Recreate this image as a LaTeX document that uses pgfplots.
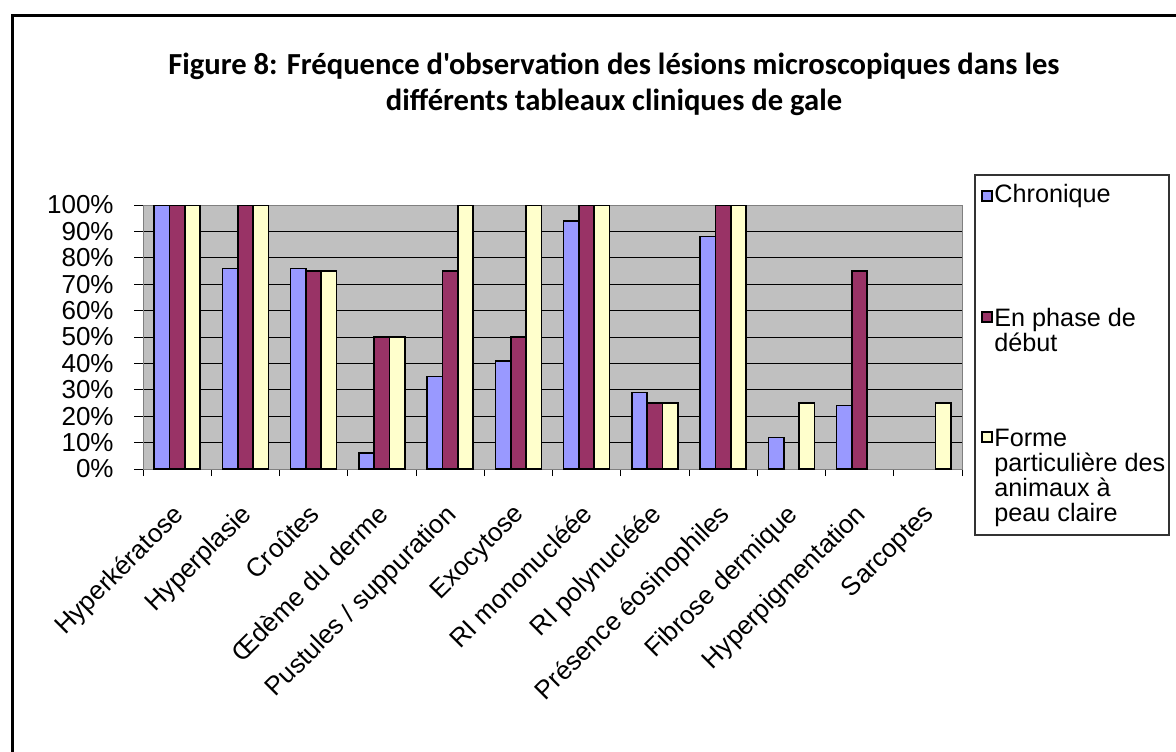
\documentclass[border=0pt]{standalone}
\usepackage{fontspec}
\setmainfont{Liberation Sans}
\newfontfamily\carlito{Carlito}
\usepackage{pgfplots}
\pgfplotsset{compat=1.18}
\definecolor{chron}{HTML}{9999FF}
\definecolor{phase}{HTML}{993366}
\definecolor{forme}{HTML}{FFFFCC}
\definecolor{plotbg}{HTML}{C0C0C0}
\begin{document}
\begin{tikzpicture}[x=0.5pt,y=0.5pt]
\useasboundingbox (0,0) rectangle (1176,751);
\fill[white] (0,0) rectangle (1176,751);
\draw[line width=1.5pt] (12,-20) -- (12,735) -- (1200,735);
\tikzset{ttl/.style={anchor=base, inner sep=0pt, font=\carlito\bfseries\fontsize{15.3}{18}\selectfont}}
\node[ttl] at (614,676) {Figure 8: Fréquence d'observation des lésions microscopiques dans les};
\node[ttl] at (614,640) {différents tableaux cliniques de gale};
\begin{axis}[
  at={(71.5pt,141pt)}, anchor=south west,
  width=409.5pt, height=132pt, scale only axis,
  ybar=0pt, bar width=7.65pt,
  xmin=-0.5, xmax=11.5, ymin=0, ymax=100,
  enlarge x limits=false, enlarge y limits=false,
  xtick={0,...,11},
  xticklabels={Hyperkératose,Hyperplasie,Croûtes,Œdème du derme,Pustules / suppuration,Exocytose,RI mononucléée,RI polynucléée,Présence éosinophiles,Fibrose dermique,Hyperpigmentation,Sarcoptes},
  minor xtick={-0.5,0.5,...,11.5},
  major x tick style={draw=none},
  minor x tick style={black, line width=0.5pt},
  tick align=outside, minor tick length=3.5pt, major tick length=4.5pt,
  tick pos=left,
  ytick={0,10,...,100},
  yticklabels={0\%,10\%,20\%,30\%,40\%,50\%,60\%,70\%,80\%,90\%,100\%},
  y tick style={black, line width=0.5pt},
  ymajorgrids, major grid style={black, line width=0.5pt},
  axis background/.style={fill=plotbg},
  axis line style={draw=gray, line width=0.5pt},
  tick label style={font=\fontsize{13}{13}\selectfont},
  yticklabel style={anchor=east, inner sep=0pt},
  yticklabel shift=10pt,
  xticklabel style={xshift=-3pt, rotate=45, anchor=north east, inner sep=0pt},
  xticklabel shift=12pt,
  every axis plot/.append style={draw=black, line width=0.8pt},
]
\addplot[fill=chron] coordinates {(0,100) (1,76) (2,76) (3,6) (4,35) (5,41) (6,94) (7,29) (8,88) (9,12) (10,24)};
\addplot[fill=phase] coordinates {(0,100) (1,100) (2,75) (3,50) (4,75) (5,50) (6,100) (7,25) (8,100) (10,75)};
\addplot[fill=forme] coordinates {(0,100) (1,100) (2,75) (3,50) (4,100) (5,100) (6,100) (7,25) (8,100) (9,25) (11,25)};
\end{axis}
% legend
\draw[black!80, line width=0.6pt] (975,216) rectangle (1169,576);
\draw[fill=chron, line width=0.6pt] (982,550) rectangle (992,560);
\draw[fill=phase, line width=0.6pt] (982,429) rectangle (992,439);
\draw[fill=forme, line width=0.6pt] (982,309) rectangle (992,319);
\tikzset{lg/.style={anchor=base west, inner sep=0pt, font=\fontsize{12.6}{12.6}\selectfont}}
\node[lg] at (994,548) {Chronique};
\node[lg] at (994,424.3) {En phase de};
\node[lg] at (994,399.3) {début};
\node[lg] at (994,305) {Forme};
\node[lg] at (994,279.3) {particulière des};
\node[lg] at (994,254.3) {animaux à};
\node[lg] at (994,229.3) {peau claire};
\end{tikzpicture}
\end{document}
